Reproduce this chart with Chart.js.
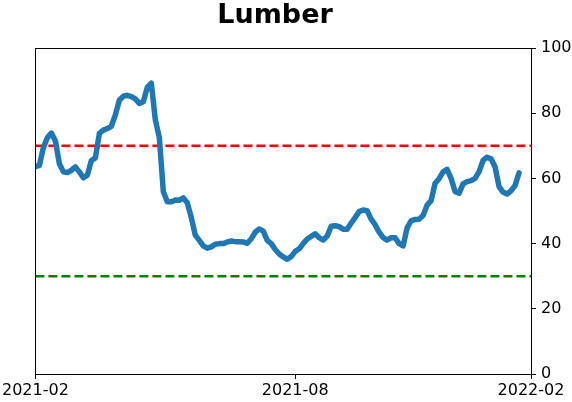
<!DOCTYPE html>
<html>
<head>
<meta charset="utf-8">
<script src="https://cdn.jsdelivr.net/npm/chart.js@4"></script>
<style>
html,body{margin:0;padding:0;background:#fff;}
#wrap{width:572px;height:402px;position:relative;}
</style>
</head>
<body>
<div id="wrap"><canvas id="c" width="572" height="402"></canvas></div>
<script>
const title = "Lumber";
const values = [
63.6,64.0,69.5,72.5,73.9,71.5,64.5,62.0,61.8,62.5,63.5,62.0,60.2,61.0,65.5,66.3,
73.8,74.8,75.3,76.0,79.5,84.0,85.2,85.5,85.1,84.4,83.0,83.5,88.0,89.2,78.0,72.5,
56.0,52.8,52.8,53.4,53.3,54.0,52.5,48.0,42.6,41.0,39.3,38.6,39.0,39.8,40.0,40.0,
40.5,40.8,40.6,40.6,40.5,40.1,41.5,43.5,44.5,43.8,41.0,40.0,38.2,36.8,35.9,35.2,
36.0,37.6,38.4,40.0,41.4,42.2,43.0,41.8,41.1,42.3,45.3,45.5,45.2,44.4,44.4,46.3,
48.0,49.8,50.3,50.1,47.5,45.8,43.5,41.8,41.1,41.8,41.8,40.0,39.3,44.8,47.0,47.4,
47.5,48.6,51.8,53.2,58.5,59.9,62.0,62.8,60.0,56.0,55.4,58.3,59.0,59.3,60.0,62.0,
65.5,66.5,66.0,63.6,57.5,55.8,55.2,56.2,57.8,61.7
];
const tickLabels = ["2021-02","2021-08","2022-02"];
const tickIndex = [0,65,124];
const upperLevel = 70;
const lowerLevel = 30;
const yTicks = [0,20,40,60,80,100];

const idx = values.map((v,i)=>i);
const xMax = tickIndex[tickIndex.length-1];

const framePlugin = {
  id:'frame',
  afterDatasetsDraw(chart){
    const {ctx, chartArea:a} = chart;
    ctx.save();
    ctx.strokeStyle='#000';
    ctx.lineWidth=1;
    ctx.strokeRect(Math.round(a.left)+0.5, Math.round(a.top)+0.5, Math.round(a.right-a.left), Math.round(a.bottom-a.top));
    ctx.restore();
  },
  afterDraw(chart){
    const ctx = chart.ctx;
    ctx.save();
    ctx.fillStyle='#000';
    ctx.font='bold 27px "DejaVu Sans"';
    ctx.textAlign='center';
    ctx.textBaseline='alphabetic';
    ctx.fillText(title, 275, 23);
    ctx.restore();
  }
};

new Chart(document.getElementById('c'), {
  type:'line',
  data:{
    datasets:[
      {data: idx.map(i=>({x:i,y:values[i]})), borderColor:'#1f77b4', borderWidth:5.5, pointRadius:0, tension:0, borderJoinStyle:'round', borderCapStyle:'round', order:1},
      {data:[{x:0,y:upperLevel},{x:xMax,y:upperLevel}], borderColor:'#ff0000', borderWidth:2.5, borderDash:[9,4], pointRadius:0, order:2},
      {data:[{x:0,y:lowerLevel},{x:xMax,y:lowerLevel}], borderColor:'#008000', borderWidth:2.5, borderDash:[9,4], pointRadius:0, order:2}
    ]
  },
  options:{
    responsive:false,
    animation:false,
    layout:{padding:{left:35,right:0,top:48,bottom:0}},
    plugins:{
      legend:{display:false},
      tooltip:{enabled:false},
      title:{display:false}
    },
    scales:{
      x:{
        type:'linear', min:0, max:xMax,
        afterBuildTicks(s){ s.ticks = tickIndex.map(v=>({value:v})); },
        ticks:{callback:(v)=>{const k=tickIndex.indexOf(v);return k>=0?tickLabels[k]:'';}, color:'#000', font:{family:'DejaVu Sans',size:16}, maxRotation:0, autoSkip:false, padding:2},
        grid:{display:true, drawOnChartArea:false, drawTicks:true, tickLength:5, color:'#000'},
        border:{display:true,color:'#000'},
        afterFit(s){ s.height = 28; }
      },
      y:{
        position:'right', min:0, max:100,
        afterBuildTicks(s){ s.ticks = yTicks.map(v=>({value:v})); },
        ticks:{color:'#000', font:{family:'DejaVu Sans',size:16}, padding:5},
        grid:{display:true, drawOnChartArea:false, drawTicks:true, tickLength:5, color:'#000'},
        border:{display:true,color:'#000'},
        afterFit(s){ s.width = 41; }
      }
    }
  },
  plugins:[framePlugin]
});
</script>
</body>
</html>
